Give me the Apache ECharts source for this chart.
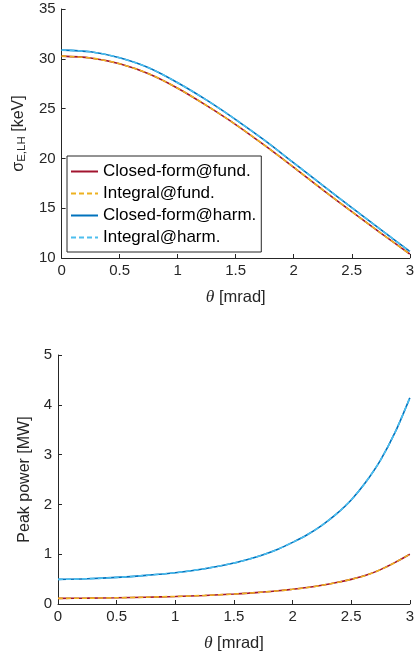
<!DOCTYPE html>
<html>
<head>
<meta charset="utf-8">
<script src="https://cdn.jsdelivr.net/npm/echarts@6/dist/echarts.min.js"></script>
<style>
html,body{margin:0;padding:0;background:#fff;}
#c{width:417px;height:658px;}
</style>
</head>
<body>
<div id="c"></div>
<script>
// ---- data ----
const thetaTop = [0, 0.25, 0.5, 0.75, 1, 1.25, 1.5, 1.75, 2, 2.25, 2.5, 2.75, 3];
const sigmaClosedFund = [30.27, 30.08, 29.5, 28.5, 27.05, 25.3, 23.4, 21.3, 19.1, 16.85, 14.65, 12.5, 10.4];
const sigmaIntegralFund = [30.27, 30.08, 29.5, 28.5, 27.05, 25.3, 23.4, 21.3, 19.1, 16.85, 14.65, 12.5, 10.4];
const sigmaClosedHarm = [30.87, 30.7, 30.1, 29.1, 27.6, 25.85, 23.9, 21.8, 19.55, 17.3, 15.05, 12.85, 10.67];
const sigmaIntegralHarm = [30.87, 30.7, 30.1, 29.1, 27.6, 25.85, 23.9, 21.8, 19.55, 17.3, 15.05, 12.85, 10.67];

const thetaBot = [0, 0.25, 0.5, 0.75, 1, 1.25, 1.5, 1.625, 1.75, 1.875, 2, 2.125, 2.25, 2.375, 2.5, 2.625, 2.75, 2.875, 3];
const powerClosedFund = [0.113, 0.117, 0.125, 0.137, 0.152, 0.172, 0.2, 0.218, 0.24, 0.265, 0.295, 0.33, 0.375, 0.43, 0.495, 0.575, 0.69, 0.835, 1.0];
const powerIntegralFund = [0.113, 0.117, 0.125, 0.137, 0.152, 0.172, 0.2, 0.218, 0.24, 0.265, 0.295, 0.33, 0.375, 0.43, 0.495, 0.575, 0.69, 0.835, 1.0];
const powerClosedHarm = [0.494, 0.507, 0.534, 0.575, 0.628, 0.709, 0.823, 0.9, 0.99, 1.1, 1.237, 1.39, 1.58, 1.81, 2.09, 2.45, 2.89, 3.45, 4.14];
const powerIntegralHarm = [0.494, 0.507, 0.534, 0.575, 0.628, 0.709, 0.823, 0.9, 0.99, 1.1, 1.237, 1.39, 1.58, 1.81, 2.09, 2.45, 2.89, 3.45, 4.14];

const seriesNames = ['Closed-form@fund.', 'Integral@fund.', 'Closed-form@harm.', 'Integral@harm.'];
const xTicks = { min: 0, max: 3, interval: 0.5 };
const yTopTicks = { min: 10, max: 35, interval: 5 };
const yBotTicks = { min: 0, max: 5, interval: 1 };

// ---- styling ----
const FONT = '"Liberation Sans", Arial, Helvetica, sans-serif';
const AX = '#262626';
const colors = ['#A2142F', '#EDB120', '#0072BD', '#4DBEEE'];
const dashed = [false, true, false, true];

function zip(xs, ys) { return xs.map((x, i) => [x, ys[i]]); }

const topData = [sigmaClosedFund, sigmaIntegralFund, sigmaClosedHarm, sigmaIntegralHarm];
const botData = [powerClosedFund, powerIntegralFund, powerClosedHarm, powerIntegralHarm];

function mkSeries(idx, xs, arrs) {
  return arrs.map((ys, k) => ({
    name: seriesNames[k],
    type: 'line',
    xAxisIndex: idx,
    yAxisIndex: idx,
    data: zip(xs, ys),
    symbol: 'none',
    smooth: 0.3,
    animation: false,
    z: 2 + k,
    lineStyle: {
      color: colors[k],
      width: 1.6,
      type: dashed[k] ? [5, 3] : 'solid'
    },
    itemStyle: { color: colors[k] }
  }));
}

function xAxis(gi) {
  return {
    type: 'value', gridIndex: gi,
    min: xTicks.min, max: xTicks.max, interval: xTicks.interval,
    name: '{i|θ} [mrad]',
    nameLocation: 'middle', nameGap: 30,
    nameTextStyle: {
      color: AX, fontFamily: FONT, fontSize: 16.5,
      rich: { i: { fontFamily: '"Liberation Serif", "DejaVu Serif", serif', fontStyle: 'italic', fontSize: 17.5, color: AX } }
    },
    axisLine: { show: true, onZero: false, lineStyle: { color: AX, width: 1 } },
    axisTick: { show: true, inside: true, length: 4, lineStyle: { color: AX } },
    axisLabel: { color: AX, fontFamily: FONT, fontSize: 15, margin: 5 },
    splitLine: { show: false }
  };
}

function yAxis(gi, t, name, gap, rich) {
  return {
    type: 'value', gridIndex: gi,
    min: t.min, max: t.max, interval: t.interval,
    name: name,
    nameLocation: 'middle', nameGap: gap,
    nameTextStyle: Object.assign({ color: AX, fontFamily: FONT, fontSize: 16 }, rich ? { rich: rich } : {}),
    axisLine: { show: true, onZero: false, lineStyle: { color: AX, width: 1 } },
    axisTick: { show: true, inside: true, length: 4, lineStyle: { color: AX } },
    axisLabel: { color: AX, fontFamily: FONT, fontSize: 15, margin: 6 },
    splitLine: { show: false }
  };
}

const chart = echarts.init(document.getElementById('c'), null, { renderer: 'canvas' });
chart.setOption({
  backgroundColor: '#fff',
  animation: false,
  grid: [
    { left: 58, top: 9, width: 355, height: 249, containLabel: false },
    { left: 58, top: 355, width: 355, height: 249, containLabel: false }
  ],
  xAxis: [xAxis(0), xAxis(1)],
  yAxis: [
    yAxis(0, yTopTicks, '{a|σ}{b|E,LH}{a| [keV]}', 31, {
      a: { fontFamily: FONT, fontSize: 16, color: AX, lineHeight: 18, verticalAlign: 'middle' },
      b: { fontFamily: FONT, fontSize: 11.5, color: AX, lineHeight: 18, verticalAlign: 'bottom', padding: [8, 0, 0, 0] }
    }),
    yAxis(1, yBotTicks, 'Peak power [MW]', 16)
  ],
  legend: {
    data: seriesNames,
    orient: 'vertical',
    left: 67, top: 156,
    width: 194,
    padding: [6, 5, 5, 3],
    itemWidth: 27, itemHeight: 14, itemGap: 3,
    backgroundColor: '#fff',
    borderColor: '#262626', borderWidth: 1,
    borderRadius: 0,
    itemStyle: { opacity: 0 },
    lineStyle: { width: 2 },
    textStyle: { color: '#000', fontFamily: FONT, fontSize: 17, lineHeight: 19 },
    selectedMode: false
  },
  series: mkSeries(0, thetaTop, topData).concat(mkSeries(1, thetaBot, botData))
});
</script>
</body>
</html>
